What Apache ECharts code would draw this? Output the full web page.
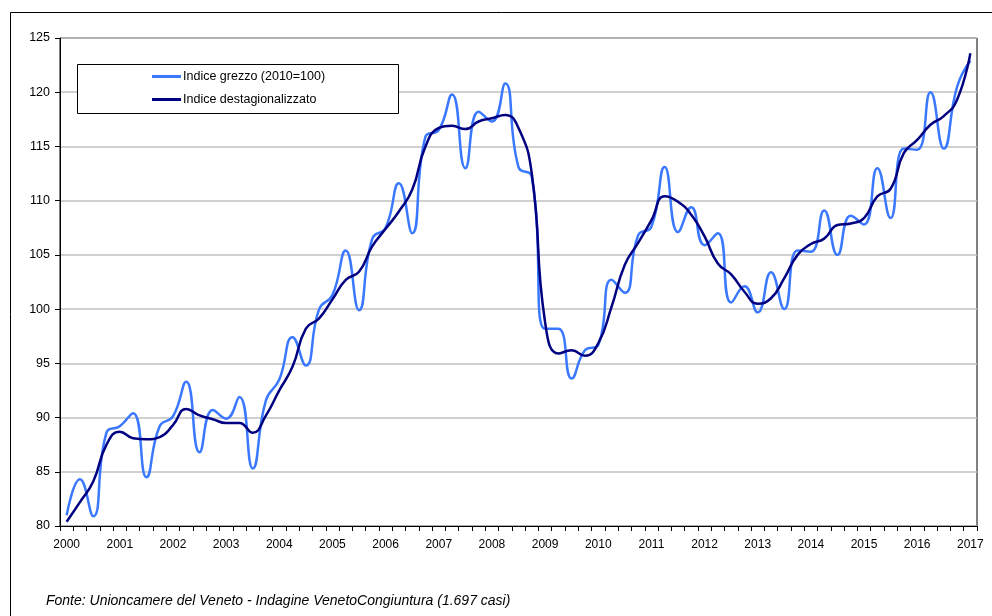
<!DOCTYPE html>
<html>
<head>
<meta charset="utf-8">
<script src="https://cdn.jsdelivr.net/npm/echarts@6/dist/echarts.min.js"></script>
<style>
html,body{margin:0;padding:0;background:#fff;}
#chart{width:992px;height:616px;}
</style>
</head>
<body>
<div id="chart"></div>
<script>
var years = ['2000','2001','2002','2003','2004','2005','2006','2007','2008','2009','2010','2011','2012','2013','2014','2015','2016','2017'];
var quarters = ['I','II','III','IV'];

var rawIndex = [
  81.0, 84.3, 80.9, 88.6,
  89.2, 90.4, 84.5, 89.2,
  90.1, 93.3, 86.8, 90.7,
  89.9, 91.9, 85.3, 91.6,
  93.5, 97.4, 94.8, 100.0,
  101.3, 105.4, 99.9, 106.5,
  107.5, 111.6, 107.0, 115.9,
  116.5, 119.8, 113.0, 118.2,
  117.3, 120.8, 113.1, 112.2,
  98.2, 98.2, 93.6, 96.2,
  96.7, 102.7, 101.5, 106.8,
  107.6, 113.1, 107.1, 109.4,
  105.9, 107.0, 100.6, 102.1,
  99.7, 103.4, 100.0, 105.4,
  105.3, 109.1, 105.0, 108.6,
  107.8, 113.0, 108.4, 114.8,
  114.7, 120.0, 114.8, 120.5,
  122.9
];

var saIndex = [
  80.4, 82.2, 84.1, 87.5,
  88.7, 88.1, 88.0, 88.2,
  89.3, 90.8, 90.2, 89.85,
  89.5, 89.5, 88.6, 90.2,
  92.5, 94.7, 98.2, 99.15,
  100.9, 102.7, 103.45, 105.8,
  107.4, 109.0, 111.0, 115.0,
  116.7, 116.9, 116.6, 117.3,
  117.6, 117.9, 116.7, 112.5,
  98.8, 95.9, 96.2, 95.7,
  96.85, 100.2, 104.1, 106.1,
  108.2, 110.4, 109.9, 108.7,
  106.7, 104.2, 103.2, 101.6,
  100.5, 101.0, 102.85, 105.0,
  106.0, 106.5, 107.75, 107.9,
  108.4, 110.4, 111.1, 114.4,
  115.6, 117.0, 117.8, 119.3,
  123.6
];

var seriesNames = ['Indice grezzo (2010=100)', 'Indice destagionalizzato'];
var sourceNote = 'Fonte: Unioncamere del Veneto - Indagine VenetoCongiuntura (1.697 casi)';

var categories = [];
for (var i = 0; i < rawIndex.length; i++) {
  var y = years[Math.floor(i / 4)];
  categories.push(y + ' ' + quarters[i % 4]);
}

var FONT = '"Liberation Sans", Arial, sans-serif';

var chart = echarts.init(document.getElementById('chart'), null, {renderer: 'canvas'});
chart.setOption({
  backgroundColor: '#ffffff',
  animation: false,
  grid: {
    left: 60, right: 15, top: 38, bottom: 90,
    show: true, borderColor: '#000000', borderWidth: 1, backgroundColor: 'transparent'
  },
  graphic: [
    { type: 'rect', shape: { x: 10.5, y: 12.5, width: 1000, height: 620 },
      style: { fill: 'none', stroke: '#000', lineWidth: 1 }, silent: true, z: -1 },
    { type: 'rect', shape: { x: 77.5, y: 64.5, width: 321, height: 49 },
      style: { fill: '#fff', stroke: '#000', lineWidth: 1 }, z: 5 },
    { type: 'text', left: 46, top: 594,
      style: { text: sourceNote, font: 'italic 14px ' + FONT, fill: '#000' } }
  ],
  legend: {
    orient: 'vertical',
    left: 152, top: 70,
    padding: 0,
    itemWidth: 29, itemHeight: 3,
    itemGap: 10,
    icon: 'rect',
    z: 10,
    textStyle: { fontFamily: FONT, fontSize: 12.5, color: '#000', padding: [0,0,0,-3] },
    data: seriesNames
  },
  xAxis: {
    type: 'category',
    data: categories,
    boundaryGap: true,
    axisLine: { lineStyle: { color: '#000', width: 1 } },
    axisTick: { show: true, interval: 0, length: 5, lineStyle: { color: '#000' } },
    axisLabel: {
      interval: 3, margin: 13, color: '#000', fontFamily: FONT, fontSize: 12,
      formatter: function (v) { return v.split(' ')[0]; }
    },
    splitLine: { show: false }
  },
  yAxis: {
    type: 'value',
    min: 80, max: 125, interval: 5,
    axisLine: { show: true, lineStyle: { color: '#000', width: 1 } },
    axisTick: { show: true, length: 5, lineStyle: { color: '#000' } },
    axisLabel: { margin: 10, color: '#000', fontFamily: FONT, fontSize: 12.5 },
    splitLine: { show: true, lineStyle: { color: '#c0c0c0', width: 1.5 } }
  },
  series: [
    {
      name: seriesNames[0], type: 'line', data: rawIndex,
      smooth: 0.5, symbol: 'none',
      itemStyle: { color: '#3a78ff' },
      lineStyle: { color: '#3a78ff', width: 2.5 },
      z: 2
    },
    {
      name: seriesNames[1], type: 'line', data: saIndex,
      smooth: 0.5, symbol: 'none',
      itemStyle: { color: '#000080' },
      lineStyle: { color: '#000080', width: 2.5 },
      z: 3
    }
  ]
});
</script>
</body>
</html>
